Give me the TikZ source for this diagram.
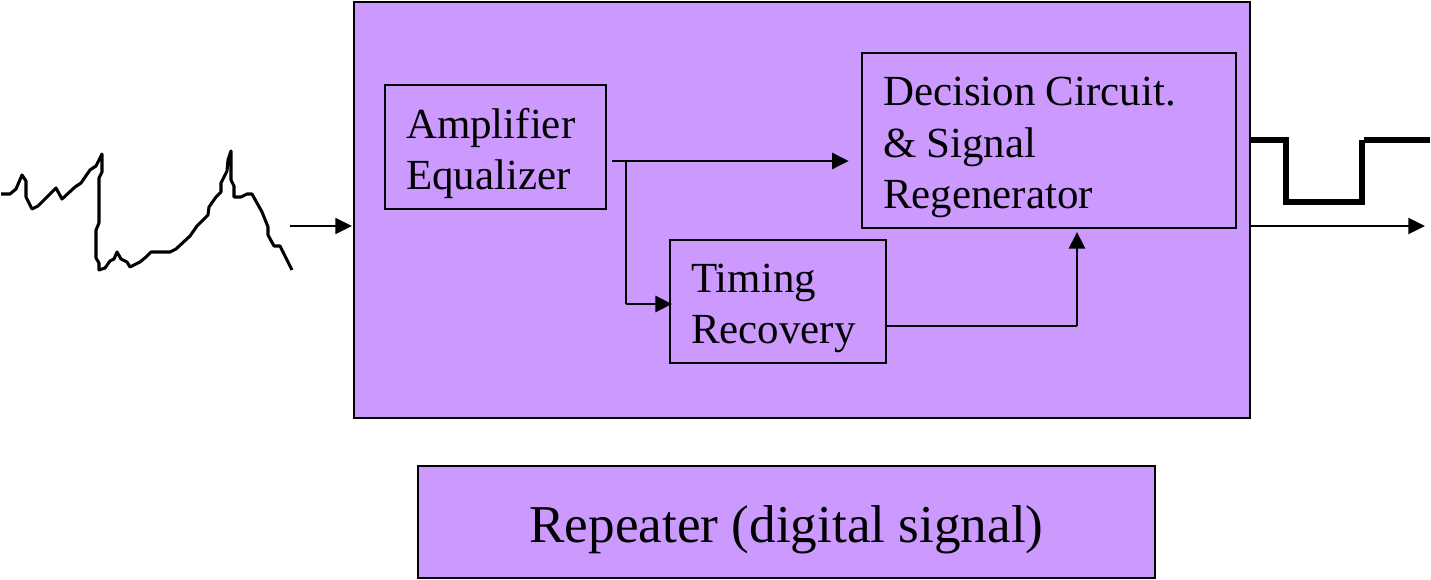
\documentclass[tikz,border=0pt]{standalone}
\usepackage{fontspec}
\setmainfont{Liberation Serif}
\usetikzlibrary{arrows.meta}
\definecolor{boxfill}{HTML}{CC99FF}
\newcommand{\padtext}{\rule{0pt}{32pt}}
\tikzset{
  blockbox/.style={draw=black,fill=boxfill,line width=1.9pt,inner sep=0pt,outer sep=0pt},
  textblock/.style={blockbox,align=left,line width=2.1pt,font=\fontsize{32.2}{38.6}\selectfont},
  arrowline/.style={line width=2.1pt,-{Triangle[length=12.5pt,width=12pt]}},
  thinarrow/.style={line width=1.7pt,-{Triangle[length=12.5pt,width=12pt]}},
  plainline/.style={line width=2.1pt},
  heavyline/.style={line width=4.4pt,line join=miter},
  wave/.style={line width=2.3pt,line join=round}
}
\begin{document}
\begin{tikzpicture}[x=0.75pt,y=-0.75pt]
\useasboundingbox (0,0) rectangle (1431,580);
% blocks
\node[blockbox,minimum width=672pt,minimum height=312pt] (outer) at (802,210) {};
\node[textblock,minimum width=165.75pt,minimum height=93pt,text width=134.25pt] (amp) at (495.5,147) {\padtext Amplifier\\Equalizer};
\node[textblock,minimum width=280.5pt,minimum height=131.25pt,text width=249pt] (dec) at (1049,140.5) {\padtext Decision\kern-3pt{} Circuit.\\\&\kern-3pt{} Signal\\Regenerator};
\node[textblock,minimum width=162pt,minimum height=92.25pt,text width=130.5pt] (tim) at (778,301.5) {\padtext Timing\\Recovery};
\node[blockbox,minimum width=552.75pt,minimum height=84pt,font=\fontsize{39.9}{46}\selectfont] (title) at (786.5,522) {\rule{0pt}{39pt}Repeater (digital signal)};
% helper coordinates
\coordinate (inStart) at (290,226);
\coordinate (ampOut) at (612,161);
\coordinate (branch) at (626,161);
\coordinate (branchLow) at (626,304);
\coordinate (timOut) at (886,326);
\coordinate (riser) at (1077,326);
\coordinate (outLine) at (1250,226);
\coordinate (outEnd) at (1425,226);
% connectors
\draw[thinarrow,shorten >=1.5pt] (inStart) -- (inStart -| outer.west);
\draw[arrowline,shorten >=10pt] (ampOut) -- (ampOut -| dec.west);
\draw[plainline] (branch) -- (branchLow);
\draw[arrowline,shorten >=-1.5pt] (branchLow) -- (branchLow -| tim.west);
\draw[plainline] (tim.east |- timOut) -- (riser);
\draw[arrowline,shorten >=3pt] (riser) -- (riser |- dec.south);
\draw[thinarrow] (outLine) -- (outEnd);
% output square wave
\draw[heavyline] (1250,140) -- (1286,140) -- (1286,202) -- (1362,202) -- (1362,140);
\draw[heavyline] (1364,140) -- (1430,140);
% input noisy wave
\draw[wave] (1,194) -- (10,194) -- (16,189) -- (22,175) -- (26,181) -- (26,197) -- (32,209) -- (38,206) -- (56,188) -- (62,199) -- (75,187) -- (81,183) -- (90,170) -- (96,166) -- (102,154) -- (102,172) -- (99,178) -- (99,223) -- (96,230) -- (96,258) -- (99,263) -- (99,270) -- (105,268) -- (110,261) -- (114,259) -- (117,252) -- (121,259) -- (127,262) -- (130,267) -- (140,262) -- (146,257) -- (151,252) -- (170,252) -- (176,249) -- (190,236) -- (197,226) -- (208,215) -- (209,207) -- (216,197) -- (221,192) -- (221,183) -- (227,171) -- (228,160) -- (231,151) -- (231,180) -- (234,186) -- (234,197) -- (241,197) -- (247,194) -- (252,194) -- (262,212) -- (268,227) -- (268,235) -- (274,246) -- (280,246) -- (292,270);
\end{tikzpicture}
\end{document}
